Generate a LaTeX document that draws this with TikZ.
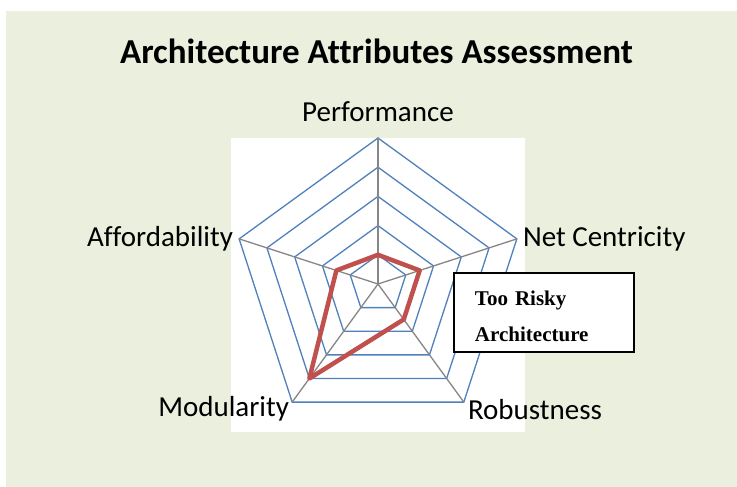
\documentclass[tikz,border=0pt]{standalone}
\usepackage{fontspec}
\setmainfont[Ligatures=NoCommon]{Carlito}
\newfontfamily\boxfont{Liberation Serif}
\usepackage{tikz}
\usetikzlibrary{positioning}
\definecolor{bggreen}{RGB}{235,239,222}
\definecolor{gridblue}{RGB}{79,129,189}
\definecolor{axisgray}{RGB}{134,134,134}
\definecolor{datared}{RGB}{192,80,77}

\begin{document}
\begin{tikzpicture}[x=1pt,y=1pt,
	axislabel/.style={font=\fontsize{29}{34}\selectfont,inner sep=0pt},
	ring/.style={gridblue,line width=1.3pt},
	spoke/.style={axisgray,line width=1.3pt}]
	\useasboundingbox (-378,-203) rectangle (359,284);
	\fill [bggreen] (-372,-203) rectangle (359,273);
	\fill [white] (-147,-148) rectangle (147,146);
	% grid
	\foreach \r in {1,...,5}
		\draw [ring] (90:{\r*29.2}) -- (18:{\r*29.2}) -- (-54:{\r*29.2}) -- (-126:{\r*29.2}) -- (162:{\r*29.2}) -- cycle;
	\coordinate (c) at (0,0);
	\foreach \a/\n in {90/p,18/n,-54/r,-126/m,162/a}
		\coordinate (\n) at (\a:146);
	\foreach \n in {p,n,r,m,a}
		\draw [spoke] (c) -- (\n);
	\draw [datared,line width=4.5pt,line join=round] (90:29.2) -- (18:43.8) -- (-54:43.8) -- (-126:116.8) -- (162:43.8) -- cycle;
	% labels
	\node [font=\bfseries\fontsize{35}{40}\selectfont,inner sep=0pt,anchor=base] (title) at (-1.5,220) {Architecture Attributes Assessment};
	\node [axislabel,above=16pt of p] (perf) {Performance};
	\node [axislabel,right=6pt of n] (netc) {Net Centricity};
	\node [axislabel,left=6pt of a] (affo) {Affordability};
	\node [axislabel,anchor=east,yshift=-7pt,xshift=-3pt] (modu) at (m) {Modularity};
	\node [axislabel,anchor=west,yshift=-7pt,xshift=4pt] (robu) at (r) {Robustness};
	\node [draw,fill=white,line width=2pt,minimum width=180pt,minimum height=79pt,inner xsep=21pt,
		text width=138pt,align=left,font=\boxfont\bfseries\fontsize{21}{36}\selectfont] (risk) at (166,-28.5) {\rule{0pt}{22pt}Too Risky\\Architecture};
\end{tikzpicture}
\end{document}
